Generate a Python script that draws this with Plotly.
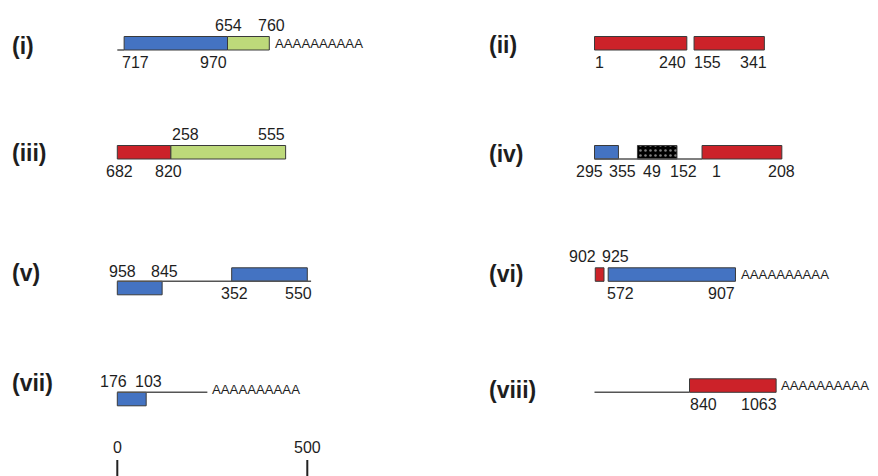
import plotly.graph_objects as go

# ---------------- DATA ----------------
panel_names = ["(i)", "(ii)", "(iii)", "(iv)", "(v)", "(vi)", "(vii)", "(viii)"]

# coloured segments (nt positions along each drawing)
seg_panel = ["(i)", "(i)", "(ii)", "(ii)", "(iii)", "(iii)", "(iv)", "(iv)", "(iv)",
             "(v)", "(v)", "(vi)", "(vi)", "(vii)", "(viii)"]
seg_start = [18, 290, 0, 262, 0, 141, 0, 113, 283, 0, 301, 2, 36, 0, 250]
seg_end = [290, 400, 243, 447, 141, 443, 63, 217, 493, 118, 500, 25, 371, 76, 478]
seg_kind = ["blue", "green", "red", "red", "red", "green", "blue", "dots", "red",
            "blue", "blue", "red", "blue", "blue", "red"]
seg_side = ["up", "up", "up", "up", "up", "up", "up", "up", "up",
            "down", "up", "up", "up", "down", "up"]

# thin connecting lines
line_panel = ["(i)", "(iv)", "(v)", "(vii)", "(viii)"]
line_start = [0, 0, 0, 0, 0]
line_end = [18, 283, 510, 237, 250]

# poly-A tails
polya_panel = ["(i)", "(vi)", "(vii)", "(viii)"]
polya_x = [410, 379, 245, 486]
polya_text = "AAAAAAAAAA"

# position labels
lab_panel = ["(i)", "(i)", "(i)", "(i)",
             "(ii)", "(ii)", "(ii)", "(ii)",
             "(iii)", "(iii)", "(iii)", "(iii)",
             "(iv)", "(iv)", "(iv)", "(iv)", "(iv)", "(iv)",
             "(v)", "(v)", "(v)", "(v)",
             "(vi)", "(vi)", "(vi)", "(vi)",
             "(vii)", "(vii)",
             "(viii)", "(viii)"]
lab_text = ["654", "760", "717", "970",
            "1", "240", "155", "341",
            "258", "555", "682", "820",
            "295", "355", "49", "152", "1", "208",
            "958", "845", "352", "550",
            "902", "925", "572", "907",
            "176", "103",
            "840", "1063"]
lab_x = [293, 406, 47, 254,
         13, 205, 298, 418,
         179, 406, 5, 135,
         -14, 73, 152, 234, 320, 493,
         13, 125, 308, 476,
         -31, 56, 69, 334,
         -10, 83,
         286, 433]
lab_side = ["top", "top", "bottom", "bottom",
            "bottom", "bottom", "bottom", "bottom",
            "top", "top", "bottom", "bottom",
            "bottom", "bottom", "bottom", "bottom", "bottom", "bottom",
            "top", "top", "bottom", "bottom",
            "top", "top", "bottom", "bottom",
            "top", "top",
            "bottom", "bottom"]

scale_ticks = [0, 500]

# ---------------- LAYOUT / STYLE ----------------
PAGE_OFF = 8                      # default body margin of the html page
W, H = 878 - PAGE_OFF, 476 - PAGE_OFF
PX_PER_NT = 0.38
LEFT_ORIGIN_PX = 117.3 - PAGE_OFF
RIGHT_ORIGIN_PX = 594.5 - PAGE_OFF
col_offset = [0, (RIGHT_ORIGIN_PX - LEFT_ORIGIN_PX) / PX_PER_NT]
row_base = [50, 159, 281.3, 392.3]
panel_col = {p: i % 2 for i, p in enumerate(panel_names)}
panel_row = {p: i // 2 for i, p in enumerate(panel_names)}
top_dy = {"(v)": -10, "(vii)": -11}
roman_dy = {"(i)": -4, "(ii)": -5, "(iii)": -6, "(iv)": -5, "(v)": -8, "(vi)": -7, "(vii)": -9, "(viii)": -2}
polya_dy = {"(vii)": 3.75}
BAR_H = 13.5
ROMAN_X = -283

colors = {"blue": "#4473C2", "red": "#CC2229", "green": "#BDD97A", "dots": "black"}
OUTLINE = "#3a3a3a"
FONT = "Liberation Sans, Arial, sans-serif"
TXT = "#1e1e1e"


def gx(panel, x):
    return col_offset[panel_col[panel]] + x


def base(panel):
    return row_base[panel_row[panel]]


fig = go.Figure()

# connecting lines
lx, ly = [], []
for p, s, e in zip(line_panel, line_start, line_end):
    lx += [gx(p, s), gx(p, e), None]
    ly += [base(p), base(p), None]
fig.add_trace(go.Scatter(x=lx, y=ly, mode="lines", line=dict(color="#555555", width=1.5),
                         hoverinfo="skip", showlegend=False))

# segments as horizontal bars
for kind in ["blue", "red", "green", "dots"]:
    idx = [i for i, k in enumerate(seg_kind) if k == kind]
    bases = [gx(seg_panel[i], seg_start[i]) for i in idx]
    lens = [seg_end[i] - seg_start[i] for i in idx]
    ys = [base(seg_panel[i]) + (-BAR_H / 2 if seg_side[i] == "up" else BAR_H / 2) for i in idx]
    marker = dict(color=colors[kind], line=dict(color=OUTLINE, width=1))
    if kind == "dots":
        marker["pattern"] = dict(shape=".", bgcolor="black", fgcolor="white", size=5, solidity=0.2)
    fig.add_trace(go.Bar(orientation="h", base=bases, x=lens, y=ys, width=[BAR_H] * len(idx),
                         marker=marker, hoverinfo="skip", showlegend=False))

annotations = []
# roman numerals
for p in panel_names:
    annotations.append(dict(x=gx(p, ROMAN_X), y=base(p) + roman_dy[p], text="<b>%s</b>" % p,
                            xanchor="left", yanchor="middle", showarrow=False,
                            font=dict(family=FONT, size=23, color=TXT)))
# poly-A
for p, x in zip(polya_panel, polya_x):
    annotations.append(dict(x=gx(p, x), y=base(p) - BAR_H / 2 + polya_dy.get(p, 0),
                            text=polya_text, xanchor="left", yanchor="middle", showarrow=False,
                            font=dict(family=FONT, size=13.2, color=TXT)))
# position labels
for p, t, x, s in zip(lab_panel, lab_text, lab_x, lab_side):
    y = base(p) + (top_dy.get(p, -25) if s == "top" else 12.5)
    annotations.append(dict(x=gx(p, x), y=y, text=t, xanchor="center", yanchor="middle",
                            showarrow=False, font=dict(family=FONT, size=16, color=TXT)))

# scale bar
sx, sy = [], []
for t in scale_ticks:
    sx += [t, t, None]
    sy += [460, 478, None]
    annotations.append(dict(x=t, y=447, text=str(t), xanchor="center", yanchor="middle",
                            showarrow=False, font=dict(family=FONT, size=16, color=TXT)))
fig.add_trace(go.Scatter(x=sx, y=sy, mode="lines", line=dict(color="#222222", width=2),
                         hoverinfo="skip", showlegend=False))

x0 = -LEFT_ORIGIN_PX / PX_PER_NT
x1 = (W - LEFT_ORIGIN_PX) / PX_PER_NT
fig.update_layout(
    width=W, height=H, margin=dict(l=0, r=0, t=0, b=0),
    paper_bgcolor="white", plot_bgcolor="white", barmode="overlay",
    xaxis=dict(range=[x0, x1], visible=False, fixedrange=True),
    yaxis=dict(range=[PAGE_OFF + H, PAGE_OFF], visible=False, fixedrange=True),
    annotations=annotations, showlegend=False,
)
fig.write_html("out.html")
